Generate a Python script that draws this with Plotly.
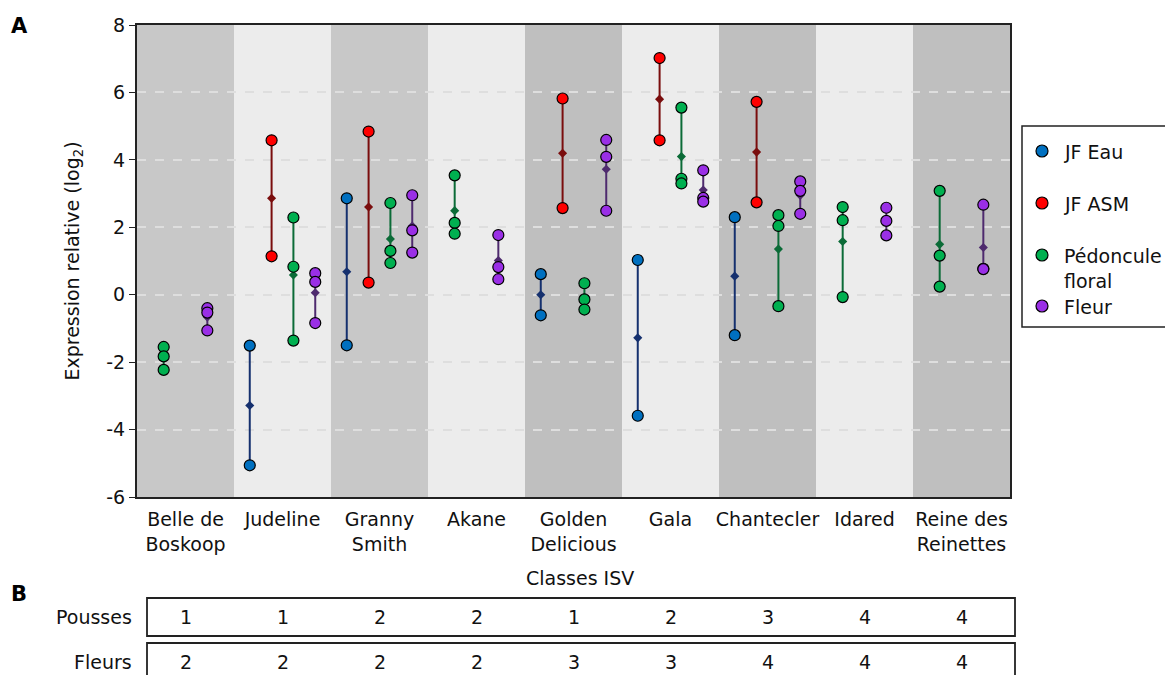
import plotly.graph_objects as go

# ---------------- data ----------------
categories = ["Belle de<br>Boskoop", "Judeline", "Granny<br>Smith", "Akane",
              "Golden<br>Delicious", "Gala", "Chantecler", "Idared",
              "Reine des<br>Reinettes"]

# replicate values (log2 relative expression), one list per cultivar
jf_eau = [[], [-1.51, -5.06], [2.86, -1.50], [], [0.61, -0.61],
          [1.03, -3.59], [2.30, -1.20], [], []]
jf_asm = [[], [4.58, 1.14], [4.84, 0.36], [], [5.82, 2.57],
          [7.02, 4.58], [5.72, 2.74], [], []]
pedoncule = [[-1.55, -1.83, -2.23], [2.29, 0.83, -1.36], [2.72, 1.30, 0.94],
             [3.54, 2.13, 1.81], [0.34, -0.14, -0.44], [5.55, 3.44, 3.30],
             [2.36, 2.04, -0.34], [2.60, 2.21, -0.07], [3.08, 1.16, 0.24]]
fleur = [[-0.40, -0.53, -1.06], [0.64, 0.38, -0.84], [2.95, 1.91, 1.25],
         [1.77, 0.82, 0.46], [4.59, 4.09, 2.49], [3.69, 2.87, 2.76],
         [3.36, 3.08, 2.40], [2.58, 2.19, 1.76], [2.67, 0.77, 0.76]]

series_names = ["JF Eau", "JF ASM", "Pédoncule<br>floral", "Fleur"]
series_data = [jf_eau, jf_asm, pedoncule, fleur]

isv_pousses = [1, 1, 2, 2, 1, 2, 3, 4, 4]
isv_fleurs = [2, 2, 2, 2, 3, 3, 4, 4, 4]

y_ticks = [-6, -4, -2, 0, 2, 4, 6, 8]

# ---------------- styles ----------------
point_colors = ["#0070c0", "#ff0000", "#00b050", "#9a2fe6"]
line_colors = ["#15306e", "#7a0d0d", "#0b6b37", "#4e2a6e"]
band_colors = ["#c8c8c8", "#ececec", "#c8c8c8", "#ececec", "#bfbfbf",
               "#ececec", "#bfbfbf", "#ececec", "#bfbfbf"]
FONT = "DejaVu Sans"
TXT = "#111111"
FS = 19

# page body has an 8px margin: lay out in page pixels, shifted by OFF
OFF = 8
W, H = 1173, 675
ML, MT = 137 - OFF, 25 - OFF
MR = W - (1010 - OFF)
MB = H - (497 - OFF)
PW, PH = W - ML - MR, H - MT - MB


def px(x):
    return (x - OFF - ML) / PW


def py(y):
    return (H - MB - (y - OFF)) / PH


DODGE = 0.9

fig = go.Figure()

# per-series positions (dodged: only present series share the slot)
positions = [[None] * len(categories) for _ in series_data]
for i in range(len(categories)):
    present = [s for s in range(len(series_data)) if series_data[s][i]]
    n = len(present)
    for k, s in enumerate(present):
        positions[s][i] = i - DODGE / 2 + DODGE / n * (k + 0.5)

# range lines + mean markers
for s, data in enumerate(series_data):
    xs, means, up, down = [], [], [], []
    for i, vals in enumerate(data):
        if not vals:
            continue
        m = sum(vals) / len(vals)
        xs.append(positions[s][i])
        means.append(m)
        up.append(max(vals) - m)
        down.append(m - min(vals))
    fig.add_trace(go.Scatter(
        x=xs, y=means, mode="markers", showlegend=False, hoverinfo="skip",
        marker=dict(symbol="diamond", size=7, color=line_colors[s]),
        error_y=dict(type="data", symmetric=False, array=up, arrayminus=down,
                     color=line_colors[s], thickness=2, width=0),
    ))

# replicate points
for s, data in enumerate(series_data):
    xs, ys = [], []
    for i, vals in enumerate(data):
        for v in vals:
            xs.append(positions[s][i])
            ys.append(v)
    fig.add_trace(go.Scatter(
        x=xs, y=ys, mode="markers", name=series_names[s], showlegend=False,
        marker=dict(symbol="circle", size=11, color=point_colors[s],
                    line=dict(color="black", width=1.2)),
    ))

shapes = []
# background bands
for i in range(len(categories)):
    shapes.append(dict(type="rect", xref="x", yref="paper", x0=i - 0.5, x1=i + 0.5,
                       y0=0, y1=1, fillcolor=band_colors[i], line=dict(width=0),
                       layer="below"))

annotations = []
# panel letters
annotations.append(dict(text="<b>A</b>", xref="paper", yref="paper", x=px(9), y=py(26),
                        xanchor="left", yanchor="middle", showarrow=False,
                        font=dict(size=21, family=FONT, color="black")))
annotations.append(dict(text="<b>B</b>", xref="paper", yref="paper", x=px(9), y=py(594),
                        xanchor="left", yanchor="middle", showarrow=False,
                        font=dict(size=21, family=FONT, color="black")))

# manual legend
shapes.append(dict(type="rect", xref="paper", yref="paper", x0=px(1022), x1=px(1170),
                   y0=py(327), y1=py(126), line=dict(color="#222222", width=1.5),
                   fillcolor="white"))
legend_y = [151, 203, 255, 306]
for s, yy in enumerate(legend_y):
    r = 6
    shapes.append(dict(type="circle", xref="paper", yref="paper",
                       x0=px(1042 - r), x1=px(1042 + r), y0=py(yy + r), y1=py(yy - r),
                       fillcolor=point_colors[s], line=dict(color="black", width=1.2)))
    annotations.append(dict(text=series_names[s], xref="paper", yref="paper",
                            x=px(1062), y=py(yy - 12), xanchor="left", yanchor="top",
                            align="left", showarrow=False,
                            font=dict(size=FS, family=FONT, color=TXT)))

# panel B table
annotations.append(dict(text="Classes ISV", xref="paper", yref="paper", x=px(580), y=py(578),
                        xanchor="center", yanchor="middle", showarrow=False,
                        font=dict(size=FS, family=FONT, color=TXT)))
rows = [("Pousses", isv_pousses, 598, 636, 617), ("Fleurs", isv_fleurs, 643, 690, 662)]
for label, vals, top, bot, cy in rows:
    shapes.append(dict(type="rect", xref="paper", yref="paper", x0=px(147), x1=px(1015),
                       y0=py(bot), y1=py(top), line=dict(color="#222222", width=1.8)))
    annotations.append(dict(text=label, xref="paper", yref="paper", x=px(134), y=py(cy),
                            xanchor="right", yanchor="middle", showarrow=False,
                            font=dict(size=FS, family=FONT, color=TXT)))
    for i, v in enumerate(vals):
        annotations.append(dict(text=str(v), xref="x", yref="paper", x=i, y=py(cy),
                                xanchor="center", yanchor="middle", showarrow=False,
                                font=dict(size=FS, family=FONT, color=TXT)))

fig.update_layout(
    width=W, height=H,
    margin=dict(l=ML, r=MR, t=MT, b=MB, pad=0, autoexpand=False),
    paper_bgcolor="white", plot_bgcolor="#c8c8c8",
    font=dict(family=FONT, size=FS, color=TXT),
    showlegend=False,
    shapes=shapes, annotations=annotations,
    xaxis=dict(range=[-0.5, len(categories) - 0.5], tickmode="array",
               tickvals=list(range(len(categories))), ticktext=categories,
               automargin=False, ticklabelstandoff=4,
               showgrid=False, zeroline=False, showline=True, linecolor="#222222",
               linewidth=2, mirror=True, ticks="", tickfont=dict(size=FS, color=TXT)),
    yaxis=dict(range=[-6, 8], tickmode="array", tickvals=y_ticks,
               ticktext=[str(v) for v in y_ticks], automargin=False,
               showgrid=True, gridcolor="#dedede", griddash="dash", gridwidth=1.5,
               zeroline=False, showline=True, linecolor="#222222", linewidth=2,
               mirror=True, ticks="outside", ticklen=6, tickcolor="#222222",
               tickfont=dict(size=FS, color=TXT),
               title=dict(text="Expression relative (log<sub>2</sub>)",
                          font=dict(size=FS, color=TXT), standoff=22)),
)

fig.write_html("out.html")
